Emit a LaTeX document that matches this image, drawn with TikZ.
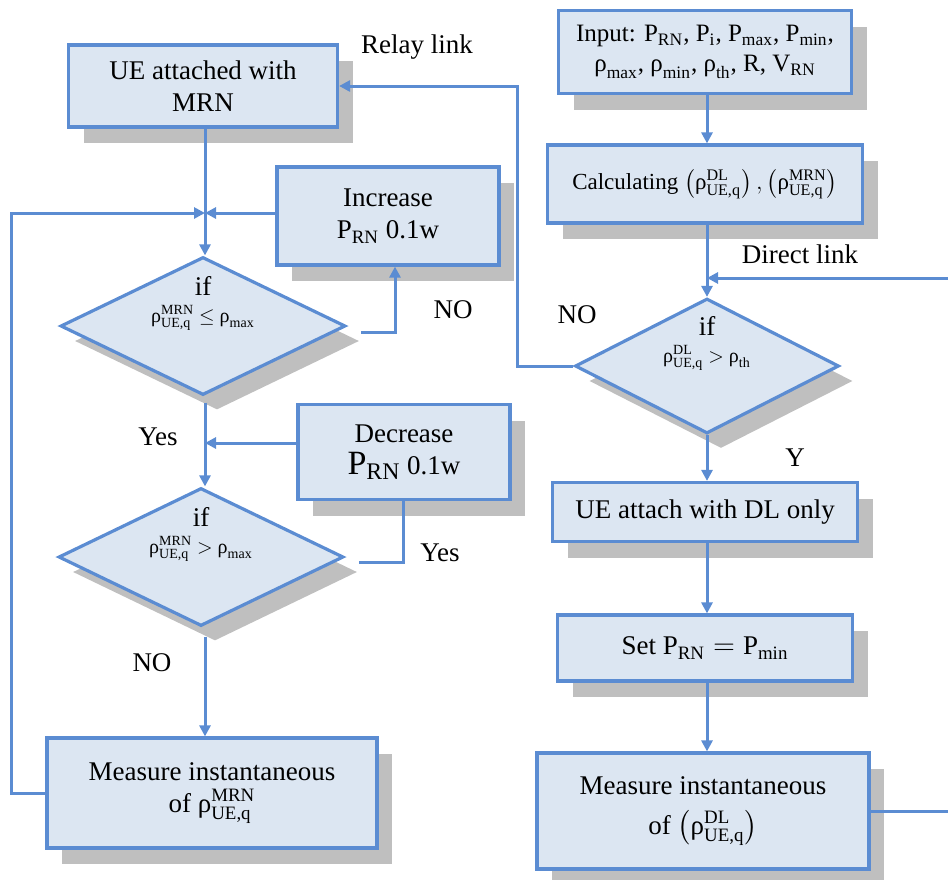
\documentclass[tikz,border=0pt]{standalone}
\usepackage{amsmath}
\usepackage{fontspec}
\setmainfont{Liberation Serif}
\usetikzlibrary{arrows.meta,calc,positioning,shapes.geometric,shadows}
\definecolor{BoxFill}{HTML}{DCE6F2}
\definecolor{Edge}{HTML}{5B8CD2}
\definecolor{Shade}{HTML}{BFBFBF}
\newcommand{\vs}[2]{\ensuremath{\text{#1}_{\text{#2}}}}
\newcommand{\rs}[2]{\ensuremath{\text{ρ}^{\text{#1}}_{\text{#2}}}}
\newcommand{\dtext}[1]{\smash{\makebox[0pt]{\raisebox{15.5pt}{if}}\makebox[0pt]{\raisebox{2pt}{\fontsize{10}{12}\selectfont #1}}}}
\tikzset{
  process/.style={
    draw=Edge, line width=1.6pt, fill=BoxFill, align=center, inner sep=2pt,
    drop shadow={shadow xshift=7.5pt, shadow yshift=-8pt, fill=Shade, opacity=1}
  },
  decision/.style={
    diamond, draw=Edge, line width=1.6pt, fill=BoxFill, inner sep=0pt,
    drop shadow={shadow xshift=7pt, shadow yshift=-7.5pt, fill=Shade, opacity=1}
  },
  lbl/.style={inner sep=1pt},
  flow/.style={-{Triangle[length=5.5pt,width=5.5pt]}, line width=1.5pt, draw=Edge},
  plainflow/.style={line width=1.5pt, draw=Edge}
}

\begin{document}
\begin{tikzpicture}[x=0.5pt,y=-0.5pt,every node/.style={font=\fontsize{13.5}{16}\selectfont}]
    \useasboundingbox (0,0) rectangle (948,879);
    % left column
    \node[process,minimum width=134.5pt,minimum height=41pt] (attachMRN) at (203,86) {UE attached with\\MRN};
    \node[process,minimum width=111pt,minimum height=49pt] (incr) at (388,216) {Increase\\\vs{P}{RN} 0.1w};
    \node[decision,minimum width=142.5pt,minimum height=69pt] (ifMRNle) at (203,326) {\dtext{\rs{MRN}{UE,q} $\leq$ \vs{ρ}{max}}};
    \node[process,minimum width=106pt,minimum height=47.5pt] (decr) at (404,452) {Decrease\\{\fontsize{17}{19}\selectfont\vs{P}{RN}} 0.1w};
    \node[decision,minimum width=142.5pt,minimum height=69pt] (ifMRNgt) at (201,557) {\dtext{\rs{MRN}{UE,q} $>$ \vs{ρ}{max}}};
    \node[process,minimum width=165pt,minimum height=55pt] (measMRN) at (212,793) {Measure instantaneous\\of \rs{MRN}{UE,q}};
    % right column
    \node[process,minimum width=146.5pt,minimum height=41.5pt,font=\fontsize{12.5}{15}\selectfont] (input) at (705,52)
      {Input: \vs{P}{RN}, \vs{P}{i}, \vs{P}{max}, \vs{P}{min},\\\vs{ρ}{max}, \vs{ρ}{min}, \vs{ρ}{th}, R, \vs{V}{RN}};
    \node[process,minimum width=157.5pt,minimum height=39pt,font=\fontsize{11.5}{14}\selectfont] (calc) at (705,184)
      {Calculating $\left(\rs{DL}{UE,q}\right),\left(\rs{MRN}{UE,q}\right)$};
    \node[decision,minimum width=132pt,minimum height=67.5pt] (ifDL) at (707,366) {\dtext{\rs{DL}{UE,q} $>$ \vs{ρ}{th}}};
    \node[process,minimum width=152.5pt,minimum height=29.5pt] (attachDL) at (705,512) {UE attach with DL only};
    \node[process,minimum width=147.5pt,minimum height=33pt] (setP) at (705,648) {Set $\text{P}_{\text{RN}} = \text{P}_{\text{min}}$};
    \node[process,minimum width=166pt,minimum height=58pt] (measDL) at (703,811) {Measure instantaneous\\[4pt]of $\left(\rs{DL}{UE,q}\right)$};
    % joints
    \coordinate (join1) at (205,213);
    \coordinate (join2) at (205,443);
    \coordinate (join3) at (707,278);
    % labels
    \node[lbl] (relayLbl) at (417,47) {Relay link};
    \node[lbl] (directLbl) at (800,254) {Direct link};
    \node[lbl] (noInc) at (453,310) {NO};
    \node[lbl] (noRelay) at (577,315) {NO};
    \node[lbl] (yesLe) at (158,437) {Yes};
    \node[lbl] (yesDec) at (440,553) {Yes};
    \node[lbl] (noGt) at (152,663) {NO};
    \node[lbl] (yDL) at (795,458) {Y};
    % left flows
    \draw[plainflow] (attachMRN.south -| join1) -- (join1);
    \draw[flow] (join1) -- (ifMRNle.north -| join1);
    \draw[flow] (incr.west |- join1) -- (join1);
    \draw[flow] ([xshift=7pt,yshift=-3pt]ifMRNle.east) -| ([xshift=3.5pt]incr.south);
    \draw[flow] ([yshift=-3pt]ifMRNle.south -| join2) -- (ifMRNgt.north -| join2);
    \draw[flow] (decr.west |- join2) -- (join2);
    \draw[plainflow] ([xshift=7pt,yshift=-2.5pt]ifMRNgt.east) -| ([xshift=-0.5pt]decr.south);
    \draw[flow] ([yshift=-4.5pt]ifMRNgt.south -| join2) -- (measMRN.north -| join2);
    \draw[flow] (measMRN.west) -- ++(-34,0) |- (join1);
    % right flows
    \draw[flow] (input.south -| join3) -- (calc.north -| join3);
    \draw[flow] (calc.south -| join3) -- (ifDL.north);
    \draw[flow] (measDL.east) -- ++(120,0) |- (join3);
    \draw[flow] (ifDL.west) -- ++(-56,0) |- (attachMRN.east);
    \draw[flow] (ifDL.south) -- (attachDL.north -| ifDL.south);
    \draw[flow] (attachDL.south -| join3) -- (setP.north -| join3);
    \draw[flow] (setP.south -| join3) -- (measDL.north -| join3);
  \end{tikzpicture}
\end{document}
